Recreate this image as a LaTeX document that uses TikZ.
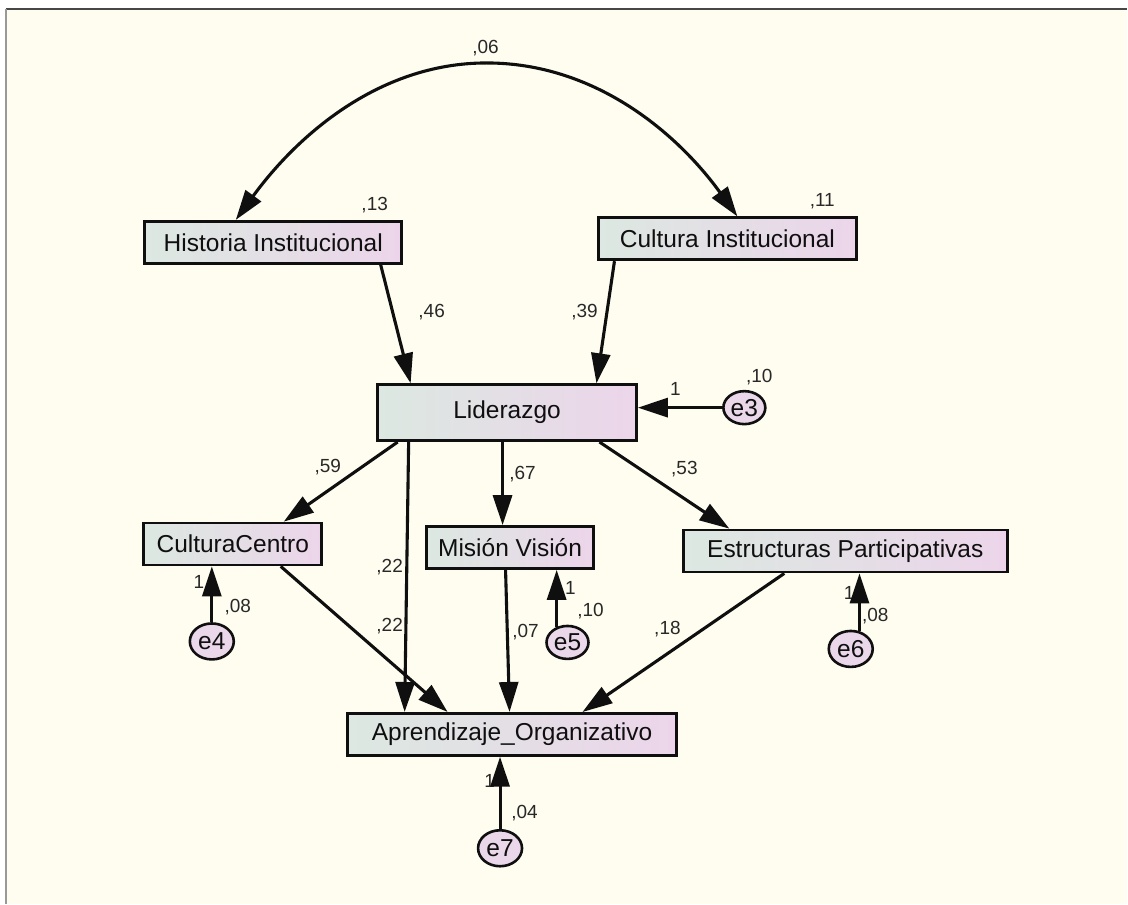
\documentclass[tikz,border=0pt]{standalone}
\usepackage{fontspec}
\setmainfont{Liberation Sans}
\usetikzlibrary{arrows.meta,shapes.geometric}
\definecolor{paper}{RGB}{255,253,240}
\definecolor{boxleft}{RGB}{220,232,225}
\definecolor{boxright}{RGB}{236,213,234}
\definecolor{errfill}{RGB}{234,216,234}
\definecolor{ink}{RGB}{15,15,15}
\definecolor{numink}{RGB}{40,40,40}
\begin{document}
\begin{tikzpicture}[x=1pt,y=-1pt,
  var/.style={draw=ink, line width=2.8pt, left color=boxleft, right color=boxright,
    inner sep=0pt, font=\fontsize{24.5}{29}\selectfont, text=ink, minimum height=42pt},
  err/.style={ellipse, draw=ink, line width=2.6pt, fill=errfill, inner sep=0pt,
    minimum width=44pt, minimum height=36pt, font=\fontsize{24.5}{29}\selectfont, text=ink},
  tip/.tip={Triangle[length=30pt,width=19pt]},
  effect/.style={line width=3.1pt, draw=ink, -tip},
  coef/.style={font=\fontsize{19}{22}\selectfont, text=numink, anchor=base, inner sep=0pt},
]
% sheet and frame
\fill[white] (0,0) rectangle (1128,905);
\fill[paper] (6,9) rectangle (1128,905);
\draw[black!72, line width=2pt] (6,9) -- (1128,9);
\draw[black!40, line width=1.2pt] (6,9) -- (6,905);
\useasboundingbox (0,0) rectangle (1128,905);

% observed variables
\node[var, minimum width=257pt] (hist) at (273.5,242.5) {Historia Institucional};
\node[var, minimum width=258pt] (cult) at (728,239) {Cultura Institucional};
\node[var, minimum width=259pt, minimum height=56pt] (lid) at (507.5,413) {Liderazgo};
\node[var, minimum width=178pt] (cc) at (233,544.5) {CulturaCentro};
\node[var, minimum width=167pt] (mv) at (510.5,548) {Misión Visión};
\node[var, minimum width=324pt] (ep) at (846,551.5) {Estructuras Participativas};
\node[var, minimum width=329pt] (ao) at (512.5,735) {Aprendizaje\_Organizativo};

% error terms
\node[err, minimum width=42pt, minimum height=33pt] (e3) at (745,408) {e3};
\node[err] (e4) at (212,642) {e4};
\node[err, minimum width=42pt, minimum height=33pt] (e5) at (568,643) {e5};
\node[err] (e6) at (851.5,649.5) {e6};
\node[err] (e7) at (500.5,849) {e7};

% coefficients and variances
\node[coef] (c06) at (486,54) {,06};
\node[coef] (c13) at (375,211) {,13};
\node[coef] (c11) at (823,207) {,11};
\node[coef] (c46) at (432,318) {,46};
\node[coef] (c39) at (585,318) {,39};
\node[coef] (w3) at (676,396) {1};
\node[coef] (v3) at (760,383) {,10};
\node[coef] (c59) at (328,473) {,59};
\node[coef] (c67) at (523,480) {,67};
\node[coef] (c53) at (685,475) {,53};
\node[coef] (c22a) at (390,573) {,22};
\node[coef] (c22b) at (390,632) {,22};
\node[coef] (w4) at (199,589) {1};
\node[coef] (v4) at (238,613) {,08};
\node[coef] (c07) at (526,638) {,07};
\node[coef] (w5) at (571,595) {1};
\node[coef] (v5) at (591,617) {,10};
\node[coef] (c18) at (668,635) {,18};
\node[coef] (w6) at (850,600) {1};
\node[coef] (v6) at (876,622) {,08};
\node[coef] (w7) at (490,788) {1};
\node[coef] (v7) at (525,819) {,04};

% covariance between the exogenous variables
\draw[line width=3.1pt, draw=ink, tip-tip]
  ([xshift=-37.5pt]hist.north) .. controls (295,139) and (377,63) .. (487,63)
  .. controls (597,63) and (679,135) .. ([xshift=10pt]cult.north);

% regression paths
\draw[effect] ([xshift=107.5pt]hist.south) -- ([xshift=-96.5pt]lid.north);
\draw[effect] ([xshift=-113pt]cult.south) -- ([xshift=89.5pt]lid.north);
\draw[effect] ([xshift=-109.5pt]lid.south) -- ([xshift=51pt]cc.north);
\draw[effect] ([xshift=-98.5pt]lid.south) -- ([xshift=-107.5pt]ao.north);
\draw[effect] ([xshift=-4.5pt]lid.south) -- ([xshift=-7.5pt]mv.north);
\draw[effect] ([xshift=92.5pt]lid.south) -- ([xshift=-116pt]ep.north);
\draw[effect] ([xshift=48pt]cc.south) -- ([xshift=-64.5pt]ao.north);
\draw[effect] ([xshift=-4.5pt]mv.south) -- ([xshift=-2.5pt]ao.north);
\draw[effect] ([xshift=-61pt]ep.south) -- ([xshift=70.5pt]ao.north);

% residual paths
\draw[effect] (e3.west) -- (e3.west -| lid.east);
\draw[effect] (e4.north) -- (e4.north |- cc.south);
\draw[effect] (e5.125) -- (e5.125 |- mv.south);
\draw[effect] (e6.64) -- (e6.64 |- ep.south);
\draw[effect] (e7.north) -- (e7.north |- ao.south);
\end{tikzpicture}
\end{document}
